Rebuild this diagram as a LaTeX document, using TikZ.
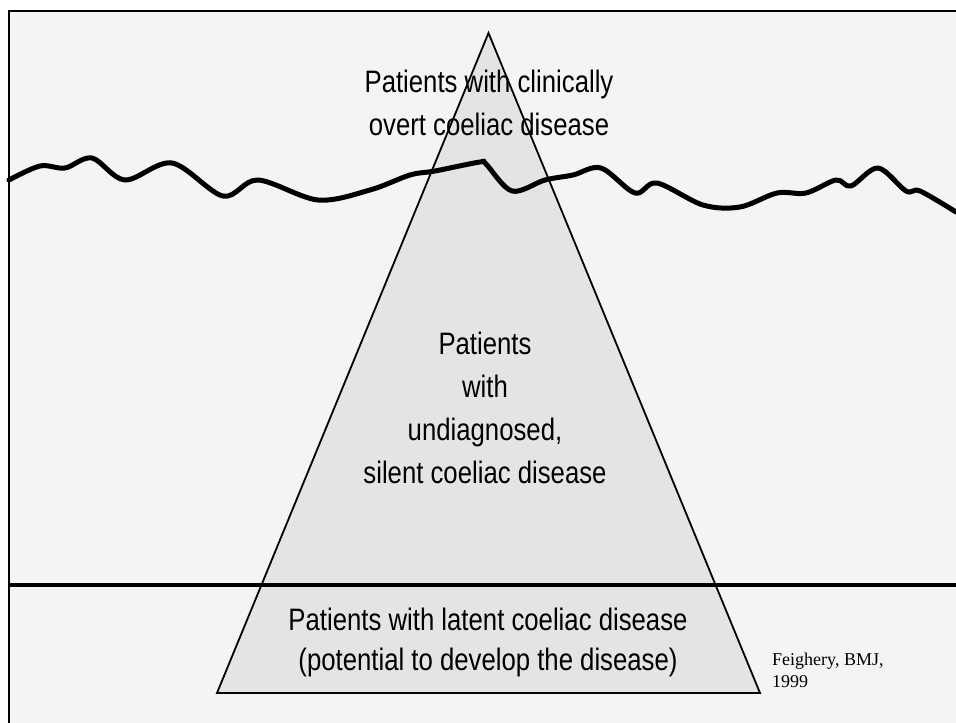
\documentclass[tikz,border=0pt]{standalone}
\usepackage{fontspec}
\newfontfamily\narrowsans{Liberation Sans}[FakeStretch=0.83]
\newfontfamily\citeserif{Liberation Serif}
\definecolor{paper}{HTML}{F4F4F4}
\definecolor{berg}{HTML}{E4E4E4}

\begin{document}
\begin{tikzpicture}[x=1pt,y=-1pt,
  bergtext/.style={align=center, font=\narrowsans\fontsize{31}{43}\selectfont, inner sep=0pt}]

\fill[white] (0,0) rectangle (956,723);
\useasboundingbox (0,0) rectangle (956,723);
\fill[paper] (9,11) rectangle (956,723);
\draw[line width=2.5] (9,723) -- (9,11) -- (956,11); % frame

% the iceberg
\coordinate (apex) at (488.5,33);
\coordinate (baseL) at (217,693);
\coordinate (baseR) at (760,693);
\draw[fill=berg, line width=1.8, line join=miter] (apex) -- (baseR) -- (baseL) -- cycle;

% water surface
\draw[line width=5, line cap=round, line join=round] plot[smooth, tension=0.55] coordinates {
 (9,180) (40,166) (65,168) (92,158) (125,180) (172,163) (223,196) (258,180)
 (318,200) (370,190) (410,175) (435,171) (480,162) (486,164) (512,191)
 (545,180) (573,175) (601,168) (635,193) (657,183) (703,205) (740,207)
 (777,193) (806,193) (836,180) (851,186) (878,168) (906,191) (920,191) (956,212)};

% diagnosis threshold
\coordinate (lineL) at (9,585);
\coordinate (lineR) at (956,585);
\draw[line width=4] (lineL) -- (lineR);

% labels
\node[bergtext] (overt) at (489,103) {Patients with clinically\\overt coeliac disease};
\node[bergtext] (silent) at (485,408) {Patients\\with\\undiagnosed,\\silent coeliac disease};
\node[bergtext, font=\narrowsans\fontsize{31}{40}\selectfont] (latent) at (488,642) {Patients with latent coeliac disease\\(potential to develop the disease)};
\node[align=left, anchor=west, inner sep=0pt, font=\citeserif\fontsize{18}{22}\selectfont] (cite) at (772,670) {Feighery, BMJ,\\1999};

\end{tikzpicture}
\end{document}
